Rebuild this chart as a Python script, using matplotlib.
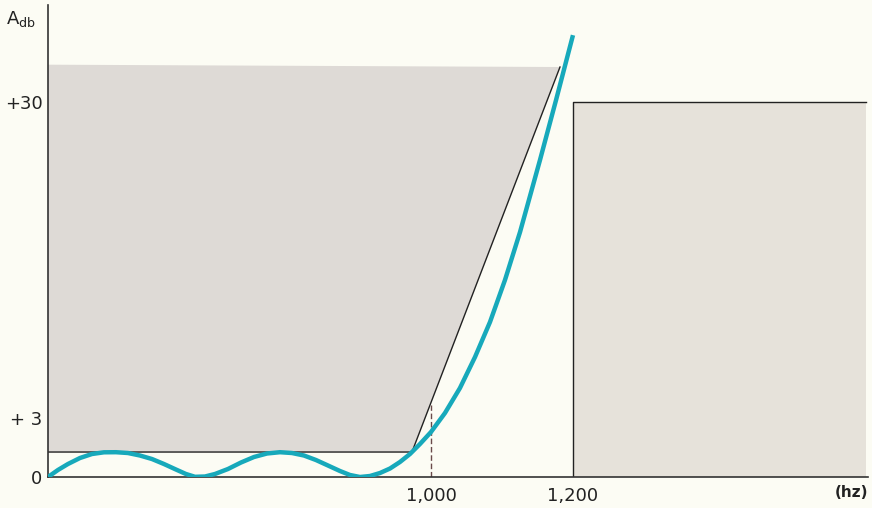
import numpy as np
import matplotlib
matplotlib.use("Agg")
import matplotlib.pyplot as plt

# ---- data ----
freq_hz = [460.6, 474.6, 488.7, 505.6, 522.5, 539.4, 556.3, 573.2, 590.1, 607.0,
           623.9, 640.8, 654.9, 667.6, 681.7, 695.8, 714.1, 732.4, 750.7, 769.0,
           787.3, 804.2, 821.1, 838.0, 854.9, 871.8, 885.9, 900.0, 914.1, 928.2,
           942.3, 956.3, 970.4, 984.5, 1000.0, 1019.7, 1040.8, 1062.0, 1083.1,
           1104.2, 1125.4, 1153.5, 1176.1, 1200.0]
gain_db = [0.0, 0.356, 0.661, 0.966, 1.169, 1.256, 1.261, 1.220, 1.093, 0.915,
           0.661, 0.381, 0.153, 0.010, 0.025, 0.153, 0.407, 0.737, 1.017, 1.195,
           1.261, 1.220, 1.093, 0.864, 0.585, 0.305, 0.102, 0.0, 0.051, 0.203,
           0.432, 0.763, 1.169, 1.678, 2.288, 3.427, 5.563, 8.212, 11.202,
           14.791, 18.892, 25.044, 30.170, 35.724]

# forbidden (shaded) region: passband ripple limit, transition, upper limit
shade_f = [460.6, 973.2, 1181.7, 460.6]
shade_db = [1.27, 1.27, 33.0, 33.2]

# stopband box
stop_f = [1200.0, 1612.7]
stop_db = [0.0, 30.0]

dash_f = 1000.0
dash_top_db = 4.11

y_ticks = [0, 3, 30]
y_ticklabels = ["0", "+ 3", "+30"]
x_ticks = [1000, 1200]
x_ticklabels = ["1,000", "1,200"]

xlim = (460.6, 1615.5)
ylim = (0, 38.3)

# ---- piecewise-linear schematic y scale ----
K = 19.667 / 11.704


def fwd(d):
    d = np.asarray(d, dtype=float)
    return np.where(d <= 3, d * K, 3 * K + (d - 3))


def inv(u):
    u = np.asarray(u, dtype=float)
    return np.where(u <= 3 * K, u / K, u - 3 * K + 3)


bg = "#fcfcf4"
fig = plt.figure(figsize=(8.72, 5.08), dpi=100, facecolor=bg)
ax = fig.add_axes([48 / 872, 31 / 508, 820 / 872, 472 / 508])
ax.set_facecolor(bg)
ax.set_yscale("function", functions=(fwd, inv))
ax.set_xlim(*xlim)
ax.set_ylim(*ylim)

# shaded forbidden region
ax.fill(shade_f, shade_db, color="#dedad6", lw=0, zorder=1)
ax.plot(shade_f[:3], shade_db[:3], color="#222222", lw=1.0, zorder=2)

# stopband box
ax.fill([stop_f[0], stop_f[1], stop_f[1], stop_f[0]],
        [stop_db[0], stop_db[0], stop_db[1], stop_db[1]],
        color="#e6e2da", lw=0, zorder=1)
ax.plot([stop_f[0], stop_f[0], stop_f[1]], [stop_db[0], stop_db[1], stop_db[1]],
        color="#222222", lw=1.0, zorder=2)

# dashed line at 1000 Hz
ax.plot([dash_f, dash_f], [0, dash_top_db], color="#6a4a4a", lw=1.0,
        ls=(0, (4, 2)), zorder=2)

# response curve
ax.plot(freq_hz, gain_db, color="#17a9bb", lw=3.2, solid_capstyle="butt",
        solid_joinstyle="round", zorder=3)

# axes styling
for s in ["top", "right"]:
    ax.spines[s].set_visible(False)
for s in ["left", "bottom"]:
    ax.spines[s].set_color("#333333")
    ax.spines[s].set_linewidth(1.2)

ax.set_yticks(y_ticks)
ax.set_yticklabels(y_ticklabels)
ax.set_xticks(x_ticks)
ax.set_xticklabels(x_ticklabels)
ax.yaxis.set_minor_locator(matplotlib.ticker.NullLocator())
ax.xaxis.set_minor_locator(matplotlib.ticker.NullLocator())
ax.tick_params(axis="both", length=0, labelsize=13, colors="#222222")
ax.tick_params(axis="y", pad=4)
ax.tick_params(axis="x", pad=7)

ax.text(-0.0146, 0.97, r"A$_{\mathrm{db}}$", transform=ax.transAxes,
        ha="right", va="center", fontsize=13, color="#222222")
ax.text(0.98, -0.032, "(hz)", transform=ax.transAxes, ha="center", va="center",
        fontsize=11, fontweight="bold", color="#222222")

fig.savefig("out.png", dpi=100, facecolor=bg)
